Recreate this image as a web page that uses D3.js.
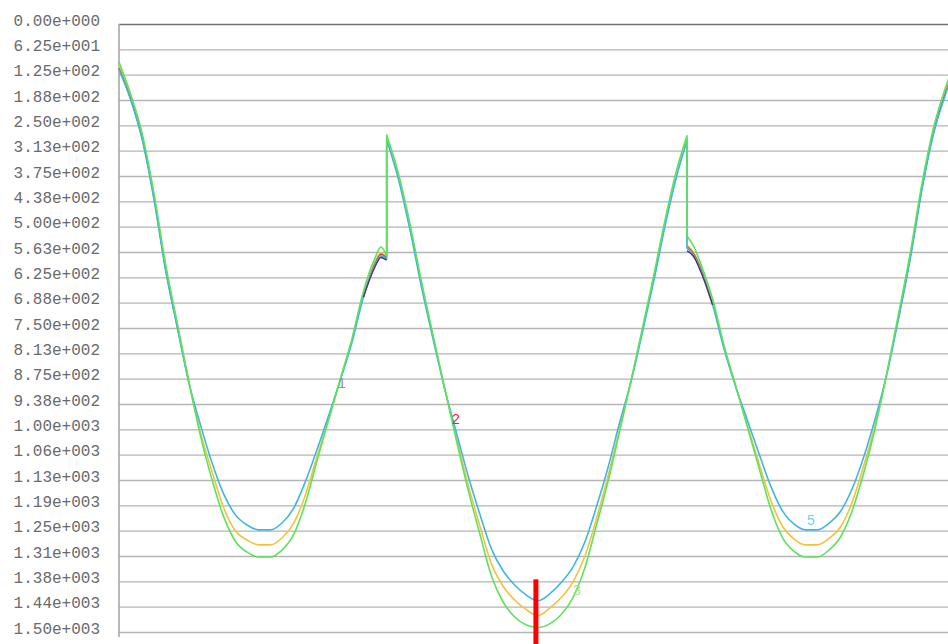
<!DOCTYPE html>
<html>
<head>
<meta charset="utf-8">
<script src="https://cdn.jsdelivr.net/npm/d3@7"></script>
<style>
  html, body { margin: 0; padding: 0; background: #fff; overflow: hidden; }
  svg { display: block; }
</style>
</head>
<body>
<svg id="chart" width="948" height="644"></svg>
<script>
// Cam angle (degrees); a repeated angle marks a vertical jump.
const angles = [0,5,10,15,20,25,30,35,40,45,50,55,60,65,70,75,80,85,90,95,100,105,110,112.5,115,115,
  120,125,130,135,140,145,150,155,160,165,170,175,180,185,190,195,200,205,210,215,220,225,230,235,240,244,244,247,
  250,255,260,265,270,275,280,285,290,295,300,305,310,315,320,325,330,335,340,345,350,355,360];

const seriesOrange = [104,180,279,424,600,743,883,1007,1105,1194,1251,1273,1285,1285,1268,1232,1163,1068,975,878,782,666,587,565,575,279,
  375,501,644,775,902,1021,1137,1238,1332,1387,1421,1445,1460,1441,1415,1377,1315,1223,1117,1001,880,752,619,479,358,281,545,565,
  601,686,799,895,991,1085,1175,1239,1271,1285,1285,1269,1241,1179,1088,985,859,718,569,400,262,167,89];

const seriesGreen = [94,173,271,417,592,737,882,1016,1125,1216,1276,1303,1315,1315,1298,1260,1183,1079,978,877,778,659,577,550,572,274,
  368,493,637,770,901,1029,1150,1258,1362,1426,1463,1483,1489,1480,1457,1415,1344,1239,1131,1007,879,747,612,472,351,276,523,550,
  593,678,795,894,995,1096,1196,1267,1301,1315,1315,1298,1265,1200,1106,993,857,712,562,392,254,158,79];

const seriesBlue = [113,187,286,432,607,748,884,989,1083,1160,1211,1236,1248,1248,1231,1195,1130,1051,967,880,787,674,595,572,580,286,
  382,508,651,779,902,1009,1115,1209,1295,1349,1384,1409,1423,1406,1378,1340,1280,1193,1096,985,881,757,627,487,366,289,553,572,
  608,693,803,896,978,1061,1140,1201,1234,1248,1248,1232,1202,1146,1067,971,860,724,577,407,269,175,99];

const seriesRed = [109,185,284,429,604,746,885,null,null,null,null,null,null,null,null,null,null,null,null,null,null,674,591,568,577,null,
  null,null,null,null,null,null,null,null,null,null,null,null,null,null,null,null,null,null,null,null,null,null,null,null,null,null,549,568,
  605,693,null,null,null,null,null,null,null,null,null,null,null,null,null,null,null,722,573,404,266,171,94];

const seriesPurple = [null,null,null,null,null,null,null,null,null,null,null,null,null,null,null,null,null,null,null,null,null,674,599,576,583,null,
  null,null,null,null,null,null,null,null,null,null,null,null,null,null,null,null,null,null,null,null,null,null,null,null,null,null,560,575,
  612,693,null,null,null,null,null,null,null,null,null,null,null,null,null,null,null,null,null,null,null,null,null];

const tickValues = [0,62.5,125,187.5,250,312.5,375,437.5,500,562.5,625,687.5,750,812.5,875,937.5,
  1000,1062.5,1125,1187.5,1250,1312.5,1375,1437.5,1500];
const tickLabels = ["0.00e+000","6.25e+001","1.25e+002","1.88e+002","2.50e+002","3.13e+002","3.75e+002",
  "4.38e+002","5.00e+002","5.63e+002","6.25e+002","6.88e+002","7.50e+002","8.13e+002","8.75e+002",
  "9.38e+002","1.00e+003","1.06e+003","1.13e+003","1.19e+003","1.25e+003","1.31e+003","1.38e+003",
  "1.44e+003","1.50e+003"];

// Node numbers written beside the curves
const nodeLabels = [
  { text: "1", angle: 94.1, value: 898, color: "#a08aa4" },
  { text: "2", angle: 143.1, value: 987, color: "#f0204c" },
  { text: "3", angle: 195.0, value: 1409, color: "#a8e088" },
  { text: "5", angle: 295.6, value: 1236, color: "#6cd4f0" }
];

// Current-position marker
const marker = { angle: 179.1, from: 1370, to: 1530 };

const W = 948, H = 644, left = 119;
const svg = d3.select("#chart");

const x = d3.scaleLinear().domain([0, 360]).range([left, 957]);
const y = d3.scaleLinear().domain([0, 1500]).range([24, 632]);

// Horizontal grid + tick labels
const axis = d3.axisLeft(y)
  .tickValues(tickValues)
  .tickFormat((d, i) => tickLabels[i])
  .tickSizeInner(-(W - left))
  .tickSizeOuter(0)
  .tickPadding(19);

const gAxis = svg.append("g").attr("transform", `translate(${left},0)`).call(axis);
gAxis.select(".domain").remove();
gAxis.selectAll(".tick line")
  .attr("stroke", (d, i) => i === 0 ? "#707070" : "#b4b4b4")
  .attr("stroke-width", 1.4);
gAxis.selectAll(".tick text")
  .attr("font-family", "'Liberation Mono', 'DejaVu Sans Mono', monospace")
  .attr("font-size", 16)
  .attr("fill", "#6a6a6a")
  .attr("dy", "1");

// Vertical axis line
svg.append("line")
  .attr("x1", left).attr("x2", left)
  .attr("y1", y.range()[0]).attr("y2", y.range()[1] + 5)
  .attr("stroke", "#a8a8a8").attr("stroke-width", 1.6);

// Smooth each run between jumps; jumps become vertical connectors.
const segLine = d3.line()
  .defined(p => p.v != null)
  .x(p => x(p.a))
  .y(p => y(p.v))
  .curve(d3.curveMonotoneX);

function seriesPath(values) {
  const pts = values.map((v, i) => ({ a: angles[i], v }));
  const runs = [];
  let cur = [];
  pts.forEach((p, i) => {
    if (i > 0 && p.a === pts[i - 1].a) { runs.push(cur); cur = []; }
    cur.push(p);
  });
  runs.push(cur);
  let d = "";
  runs.forEach((run, k) => {
    const s = segLine(run);
    if (!s) return;
    const prev = k > 0 ? runs[k - 1][runs[k - 1].length - 1] : null;
    if (d && prev && prev.v != null && run[0].v != null) d += "L" + s.slice(1);
    else d += s;
  });
  return d;
}

const series = [
  { values: seriesOrange, color: "#f2c23e", width: 1.6 },
  { values: seriesRed, color: "#d8403a", width: 1.3 },
  { values: seriesBlue, color: "#3fb6e4", width: 1.6 },
  { values: seriesPurple, color: "#5a2c7c", width: 1.4 },
  { values: seriesGreen, color: "#5ee25e", width: 1.6 }
];

svg.append("g").selectAll("path")
  .data(series)
  .join("path")
  .attr("fill", "none")
  .attr("stroke", d => d.color)
  .attr("stroke-width", d => d.width)
  .attr("stroke-linejoin", "round")
  .attr("d", d => seriesPath(d.values));

// Node numbers
svg.append("g").selectAll("text")
  .data(nodeLabels)
  .join("text")
  .attr("x", d => x(d.angle))
  .attr("y", d => y(d.value))
  .attr("font-family", "'Liberation Sans', Arial, sans-serif")
  .attr("font-size", 14)
  .attr("fill", d => d.color)
  .text(d => d.text);

// Marker bar
svg.append("rect")
  .attr("x", x(marker.angle) - 2.5)
  .attr("y", y(marker.from))
  .attr("width", 5)
  .attr("height", y(marker.to) - y(marker.from))
  .attr("fill", "#ff0000");
</script>
</body>
</html>
